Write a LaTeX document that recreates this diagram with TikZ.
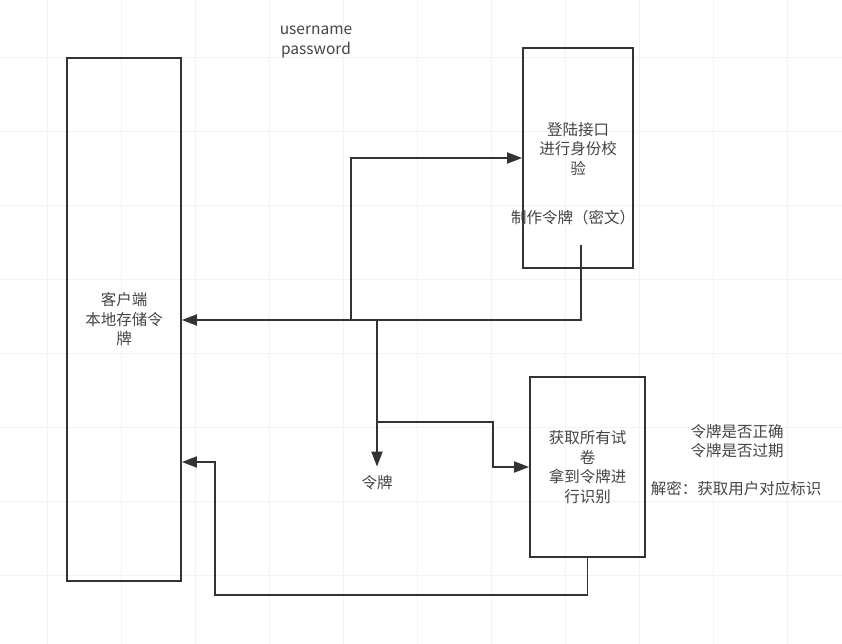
\documentclass[tikz,border=0pt]{standalone}
\usepackage{fontspec}
\setmainfont{Noto Sans CJK SC}
\usetikzlibrary{arrows.meta}

\definecolor{inkline}{HTML}{333333}
\definecolor{inktext}{HTML}{444444}
\definecolor{gridline}{HTML}{F3F3F3}

\tikzset{
    box/.style 2 args={draw=inkline, line width=1.8pt, minimum width=#1, minimum height=#2,
        inner sep=0pt, text=inktext, align=center, font=\fontsize{15.5}{19.5}\selectfont},
    txt/.style={text=inktext, align=center, inner sep=0pt, font=\fontsize{15.5}{19.5}\selectfont},
    link/.style={draw=inkline, line width=1.8pt},
    arr/.style={link, -{Triangle[length=15pt,width=11pt]}}
}

\begin{document}
\begin{tikzpicture}[x=1pt, y=-1pt]
    \useasboundingbox (0,0) rectangle (842,644);

    % faint background grid
    \foreach \x in {47,121,...,787}
        \draw[gridline, line width=0.8pt] (\x,0) -- (\x,644);
    \foreach \y in {57,131,...,575}
        \draw[gridline, line width=0.8pt] (0,\y) -- (842,\y);

    \node[box={114pt}{523pt}] (client) at (124,319.5) {客户端\\本地存储令\\牌};
    \node[box={110pt}{220pt}] (login) at (578,158) {};
    \node[box={115pt}{180pt}] (exam) at (587.5,467) {获取所有试\\卷\\拿到令牌进\\行识别};

    \node[txt] (creds) at (316,42) {username\\password};
    \node[txt] (loginText) at (578,149) {登陆接口\\进行身份校\\验};
    \node[txt] (make) at (573,218) {制作令牌（密文）};
    \node[txt] (token) at (377,483) {令牌};
    \node[txt] (check) at (737,441) {令牌是否正确\\令牌是否过期};
    \node[txt] (decode) at (736,489) {解密：获取用户对应标识};

    \coordinate (tokOut) at (581,245);
    \coordinate (split) at (351,320);
    \coordinate (tokDown) at (377,320);
    \coordinate (branch) at (377,422);
    \coordinate (bend) at (493,422);
    \coordinate (back) at (215,595);
    \coordinate (backIn) at (215,462);

    % token goes back to the client
    \draw[arr] (tokOut) |- (client.east |- split);
    % login request
    \draw[arr] (split) |- (login.west);
    % token carried with the request
    \draw[arr, shorten >=9pt] (tokDown) -- (token.north);
    \draw[arr] (branch) -- (bend) |- (exam.west);
    % papers returned
    \draw[arr] (exam.south) |- (back) -- (backIn) -- (client.east |- backIn);
\end{tikzpicture}
\end{document}
